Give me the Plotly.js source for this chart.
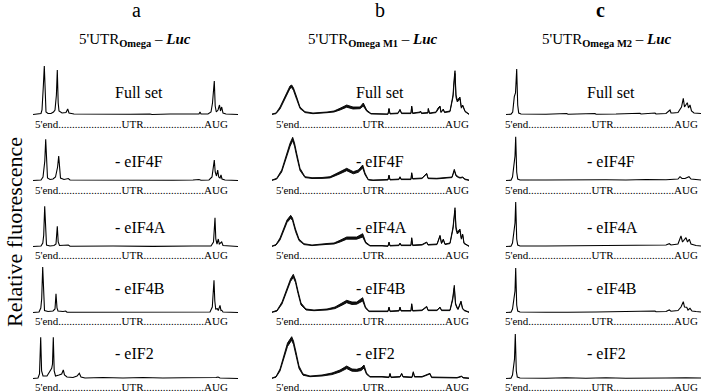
<!DOCTYPE html>
<html><head><meta charset="utf-8">
<script src="https://cdn.plot.ly/plotly-3.0.1.min.js"></script>
<style>html,body{margin:0;padding:0;background:#fff;} #chart{width:701px;height:392px;}</style>
</head><body><div id="chart"></div>
<script>
// ---------- categories / labels ----------
const columnLetters = ["a", "b", "c"];
const constructs = ["Omega", "Omega M1", "Omega M2"];
const conditions = ["Full set", "- eIF4F", "- eIF4A", "- eIF4B", "- eIF2"];
const axisLabels = ["5'end", "UTR", "AUG"];
const yAxisTitle = "Relative fluorescence";

// ---------- data: [position along UTR, fluorescence] ----------
const omega_full = [[0,0.5],[5,0.8],[8,1.5],[9,5],[9.7,26],[10.4,30],[11.3,49],[12.2,14],[13,3],[15,1.5],[18,1.5],[20.5,3],[22,5],[23.4,20],[24.3,45],[25.2,12],[26,4],[29,2],[33,2.5],[34.7,6],[36,2],[41,1],[57,0.8],[77,1.2],[79,0.6],[97,0.8],[117,1],[119,0.5],[137,1],[157,0.8],[166,1],[167,3],[168,1],[175,1],[178,3],[179.5,12],[180.5,26],[181.3,34],[182.2,9],[183.3,3],[185,5],[186.5,10],[187.5,4],[188.7,8],[190,2],[193,1],[205,0.5]];
const omega_eIF4F = [[0,0.5],[8,1],[10,4],[11,11],[11.8,20],[12.7,41.7],[13.6,10],[14.5,3],[17,1.5],[20,2],[22.5,4],[23.7,9],[24.6,14],[25.7,25],[26.6,8],[27.5,3],[31,1.5],[35.3,2.5],[37,1],[60,0.8],[100,1],[140,0.8],[160,1],[166,1.5],[168,0.8],[176,1],[179,4],[180.5,14],[181.3,21],[182.2,9],[183.5,5],[184.7,11],[185.7,4],[187,3],[188,6],[189,2],[192,1],[205,0.5]];
const omega_eIF4A = [[0,0.5],[8,1],[9.8,4],[10.7,11.7],[11.7,40.7],[12.6,8],[13.5,2],[17,1],[21,1.5],[23,3],[24.3,20.7],[25.2,5],[26.5,1.5],[35.3,2],[37,0.8],[80,1],[120,0.6],[160,1],[178,1],[180.5,5],[181.2,18],[182,29.3],[182.8,8],[184,3],[185.3,8],[186.3,3],[188.7,5],[190,1.5],[205,0.5]];
const omega_eIF4B = [[0,0.5],[6,1],[7.8,5],[8.7,14.3],[9.7,46],[10.6,9],[11.5,2.5],[15,1.5],[20,2],[22,4],[23,19.3],[24,5],[25,2],[30,1.5],[32.7,2],[34,0.8],[80,1],[120,0.8],[160,1],[177,1],[179.3,6],[180,16],[181,32.7],[181.8,12],[182.7,4],[184.3,4.3],[185.3,2.5],[187,7.7],[188,2.5],[188.8,2.7],[190,1],[205,0.5]];
const omega_eIF2 = [[0,0.5],[5,1],[6.5,5],[7,17],[7.7,41.7],[8.6,8],[10,3],[14,3],[18.7,10.7],[19.5,15],[20.3,41.7],[21.2,8],[22.5,3],[26,4],[28.7,5],[30.3,9],[31.5,4],[34,2],[40,1.5],[44,3],[46.3,5.7],[48,2],[52,1],[70,1.5],[90,1],[110,1.5],[130,1],[150,1.3],[170,1],[183,1.5],[185,2],[187,1],[205,0.5]];

// Omega M1: noisy trace given as [position, upper envelope, lower envelope]
const m1_full = [[0,1,0.6],[4,2,1.3],[8,8,6],[13,18,15.5],[16,25,22.5],[18,29,26.5],[19.7,30,27.5],[21.5,27,24.5],[24.7,18,15.5],[28,8,6.5],[33,3.3,2.4],[41,2,1.3],[55,3,2.3],[62,4,3],[68,6.7,5],[74.7,10,7.8],[81,8,6],[88,8,6.3],[91.3,12,9],[94.7,5,3.8],[99,1.5,1],[110,1.5,1],[116,1,0.7],[117,6.7,6],[118,1.5,1],[126,2,1.4],[128,5.7,5],[129.5,2,1.4],[139,2,1.4],[139.7,9,8.3],[140.7,2,1.4],[148,3,2.4],[148.5,4,3.4],[149.5,2,1.4],[156,2.5,1.9],[156.3,6.7,6],[157.5,2,1.4],[164,3,2.4],[166,7,6],[168,9,8.3],[169,3,2.4],[171.3,6,5.3],[172.5,3,2.4],[178,4,3.3],[181,20,18],[182,35,32.5],[183,44.3,41.5],[184,20,17.5],[185.3,15,13],[188,18,16],[189.3,8,6.8],[190.7,10,9.2],[193,4,3.3],[197,1,0.6]];
const m1_eIF4F = [[0,1,0.6],[4.7,2.7,1.9],[9.7,11,9],[14.7,27.7,24.5],[18,37.7,34.5],[20.7,43.7,40.5],[22.5,38,34.8],[24.7,27.7,24.5],[28,12.7,10.5],[33,4.3,3.4],[40,3.3,2.5],[50,3.5,2.6],[58,4.3,3.1],[68,9.3,7.2],[74.7,12.7,10.3],[81.3,9.3,7.2],[86.3,11,8.7],[90.7,16,13],[93,8,6.2],[96.3,1.5,1],[101,1,0.6],[116,1.5,1],[117,6,5.3],[118,1.5,1],[127,2,1.4],[128,4.3,3.7],[129,2,1.4],[139,2,1.4],[139.7,8.3,7.6],[140.7,2.5,1.9],[146,3,2.4],[150,3,2.4],[154.7,7.7,7],[156,3,2.4],[164.7,2.7,2.1],[170,3,2.4],[180,4,3.4],[182.3,11.7,10.3],[184,6,5],[186.3,4.3,3.5],[188,3.5,2.9],[190.7,4,3.4],[193,2,1.4],[197,1,0.6]];
const m1_eIF4A = [[0,1,0.6],[4,2.5,1.8],[8,9,7],[12,20,17.5],[15,27,24.5],[18.7,31.7,28.7],[20.5,29,26.5],[23.5,18,15.5],[27,8,6.4],[32,3.3,2.4],[40,2,1.4],[55,3.5,2.6],[62,4,3],[68,6.7,5],[74.7,10,7.8],[84.7,10,7.8],[90.7,13.3,10],[93.7,5,3.8],[98,1.5,1],[110,1.5,1],[116,1,0.7],[117,5,4.4],[118,1.5,1],[127,2,1.4],[128,4,3.4],[129,2,1.4],[139,2,1.4],[139.7,9.3,8.6],[140.7,2,1.4],[150,2.5,1.9],[154.7,5,4.4],[156,2.5,1.9],[165,3,2.4],[168,11.7,10.7],[169.5,4,3.4],[171.3,8,7],[173,3,2.4],[178,4,3.4],[181,20,18],[183,39.3,36.5],[184,20,17.5],[185.3,15,13],[188,18,16],[189.3,9,7.8],[190.7,13,11.8],[192,4,3.4],[197,1,0.6]];
const m1_eIF4B = [[0,1,0.6],[5,2.7,1.9],[10,11,9],[15,25,22.5],[18.5,34,31.5],[21.3,38.7,35.7],[23.5,33,30.5],[26,22,19.5],[29,10,8],[34,4,3],[42,3,2.3],[55,4,3],[63,6,4.4],[70,10,7.8],[74.7,12.7,10.3],[80,11,8.5],[84.7,11,8.8],[90.7,15.3,12],[93.5,6,4.7],[97,2,1.4],[110,2,1.4],[116,2,1.4],[117,6,5.3],[118,2,1.4],[127,2.5,1.9],[128,6,5.3],[129,2.5,1.9],[139,2.5,1.9],[139.7,9.3,8.6],[140.7,2.5,1.9],[150,3,2.4],[154.7,6.7,6],[156,3,2.4],[165,3,2.4],[168,6,5.3],[169.5,3,2.4],[178,3,2.4],[180.7,15,13],[182.3,27.7,25.3],[183.5,10,8.6],[185,6,5],[186,4,3.4],[189,12,10.8],[190.5,5,4.3],[192,3,2.4],[197,1,0.6]];
const m1_eIF2 = [[0,1,0.6],[4,2.5,1.8],[8,10,8],[12,25,21.5],[15.5,36,32.5],[19.7,42.3,38.8],[21.5,38,34.5],[24,27,23.5],[27,13,10.5],[31,5,3.8],[38,3,2.3],[50,4,3],[60,6,4.4],[68,9,7],[74.7,13,10.4],[80,10,7.8],[84.7,9.7,7.6],[89,11,8.4],[92,14,11],[94.5,6,4.7],[98,2.5,1.9],[110,2.5,1.9],[117,2,1.4],[118,5.7,5],[119,2,1.4],[128,2.5,1.9],[129.7,5.7,5],[131,2.5,1.9],[140,2,1.4],[141.3,7.3,6.6],[142.5,2.5,1.9],[150,2.5,1.9],[158,5.7,5],[159.5,2,1.4],[170,1.5,1],[185,1.5,1],[189.7,3,2.4],[191,1.5,1],[197,1,0.6]];

const m2_full = [[0,0.5],[5,0.8],[6.7,3],[7.5,10],[8.3,18.3],[9.5,22],[10.7,46],[11.7,10],[12.7,2],[15,1],[40,0.8],[60.7,1.5],[62,0.8],[89,1.5],[90,0.8],[110,1],[134,1.8],[135,1],[149,2],[150,1],[160,1.5],[164,5],[165,2],[167,2],[172,2.5],[175.5,8],[177.3,16.7],[178.5,8],[181.3,12.3],[182.5,7],[184,10],[185.5,4],[188,2],[195,1.5]];
const m2_eIF4F = [[0,0.5],[5,0.8],[6.5,4],[7.5,12],[8.3,22.7],[9,25],[9.7,44.3],[10.7,9],[11.7,2],[14,1],[40,1],[60,1.2],[80,0.8],[100,1.2],[120,1],[140,1.5],[160,1.2],[172,2],[174,4.3],[176,2.5],[179,2.5],[183,4.3],[185,2],[190,1.5],[195,1]];
const m2_eIF4A = [[0,0.5],[5,0.8],[6.5,4],[7.5,12],[8.3,20],[9,24],[9.7,45],[10.7,8],[11.7,2],[14,1],[40,1],[70,1.2],[100,1],[130,1.5],[150,1.5],[160,2],[163.3,3.3],[165,2],[172,3],[175,11],[176.5,5],[178,7],[180,9.3],[181.5,5],[183.3,7.7],[185,3],[190,1.5],[195,1]];
const m2_eIF4B = [[0,0.5],[5,0.8],[6.5,4],[7.5,12],[8.3,17.3],[9,22],[9.7,45],[10.7,8],[11.7,2],[14,1],[40,0.8],[60.7,1.5],[62,0.8],[90,1],[134,1.5],[149,2],[150,1.2],[160,1.5],[163.3,3],[165,1.8],[172,2.5],[175,6],[177.3,11.3],[178.5,6],[180.7,5.7],[182,3],[184,4.7],[186,2],[190,1.5],[195,1]];
const m2_eIF2 = [[0,0.5],[5,0.8],[6.5,4],[7.3,12],[7.8,16.7],[8.5,20],[9.3,45],[10.3,8],[11.3,2],[14,1],[40,0.8],[60,1.2],[80,0.8],[100,1.2],[120,0.8],[140,1.2],[160,1],[180,1.2],[195,1]];

const columnsData = [
  [omega_full, omega_eIF4F, omega_eIF4A, omega_eIF4B, omega_eIF2],
  [m1_full, m1_eIF4F, m1_eIF4A, m1_eIF4B, m1_eIF2],
  [m2_full, m2_eIF4F, m2_eIF4A, m2_eIF4B, m2_eIF2]
];

// ---------- layout geometry (pixels) ----------
const W = 701, H = 392;
const baseY = [115, 181, 247, 313, 379];
const colX = [[33, 238], [272, 469], [506, 701]];
const labelY = [92, 162, 227, 288, 353];
const condX = [113, 354, 585];
const letterX = [136, 380, 600];
const titleX = [135, 373, 607];
const axisLabelX = [131.5, 372, 601.5];
const axisLabelY = [124.5, 190, 255, 321, 386.5];
const yMin = -1.5, yMax = 52;
const serif = "Liberation Serif";

const px = v => v / W;
const py = v => 1 - v / H;

const traces = [];
const layout = {
  width: W, height: H,
  margin: {l: 0, r: 0, t: 0, b: 0},
  paper_bgcolor: "#fff", plot_bgcolor: "rgba(0,0,0,0)",
  showlegend: false,
  font: {family: serif, color: "#000"},
  annotations: []
};

const dots1 = ".".repeat(23), dots2 = ".".repeat(22);
const axisText = axisLabels[0] + dots1 + axisLabels[1] + dots2 + axisLabels[2];

for (let c = 0; c < 3; c++) {
  for (let r = 0; r < 5; r++) {
    const k = r * 3 + c + 1;
    const xa = k === 1 ? "x" : "x" + k;
    const ya = k === 1 ? "y" : "y" + k;
    const data = columnsData[c][r];
    const b = baseY[r];
    layout["xaxis" + (k === 1 ? "" : k)] = {
      domain: [px(colX[c][0]), px(colX[c][1])],
      range: [0, colX[c][1] - colX[c][0]],
      visible: false, fixedrange: true, anchor: ya
    };
    layout["yaxis" + (k === 1 ? "" : k)] = {
      domain: [py(b - yMin), py(b - yMax)],
      range: [yMin, yMax],
      visible: false, fixedrange: true, anchor: xa
    };
    if (c === 1) {
      traces.push({
        type: "scatter", mode: "lines", xaxis: xa, yaxis: ya,
        x: data.map(d => d[0]), y: data.map(d => d[2]),
        line: {color: "#000", width: 0.9}, hoverinfo: "skip"
      });
      traces.push({
        type: "scatter", mode: "lines", xaxis: xa, yaxis: ya,
        x: data.map(d => d[0]), y: data.map(d => d[1]),
        fill: "tonexty", fillcolor: "#111",
        line: {color: "#000", width: 0.9}, hoverinfo: "skip"
      });
    } else {
      traces.push({
        type: "scatter", mode: "lines", xaxis: xa, yaxis: ya,
        x: data.map(d => d[0]), y: data.map(d => d[1]),
        line: {color: "#000", width: 1.1}, hoverinfo: "skip"
      });
    }
    layout.annotations.push({
      xref: "paper", yref: "paper", x: px(condX[c]), y: py(labelY[r]),
      xanchor: "left", yanchor: "middle", showarrow: false,
      text: conditions[r], font: {family: serif, size: 16, color: "#000"}
    });
    layout.annotations.push({
      xref: "paper", yref: "paper", x: px(axisLabelX[c]), y: py(axisLabelY[r]),
      xanchor: "center", yanchor: "middle", showarrow: false,
      text: axisText, font: {family: serif, size: 11, color: "#000"}
    });
  }
  layout.annotations.push({
    xref: "paper", yref: "paper", x: px(letterX[c]), y: py(10),
    xanchor: "center", yanchor: "middle", showarrow: false,
    text: c === 2 ? "<b>" + columnLetters[c] + "</b>" : columnLetters[c],
    font: {family: serif, size: 20, color: "#000"}
  });
  layout.annotations.push({
    xref: "paper", yref: "paper", x: px(titleX[c]), y: py(40),
    xanchor: "center", yanchor: "middle", showarrow: false,
    text: "5'UTR<sub><b>" + constructs[c] + "</b></sub> – <b><i>Luc</i></b>",
    font: {family: serif, size: 15, color: "#000"}
  });
}
layout.annotations.push({
  xref: "paper", yref: "paper", x: px(14), y: py(232),
  xanchor: "center", yanchor: "middle", showarrow: false, textangle: -90,
  text: yAxisTitle, font: {family: serif, size: 22, color: "#000"}
});

Plotly.newPlot("chart", traces, layout, {displayModeBar: false, staticPlot: true});
</script>
</body></html>
